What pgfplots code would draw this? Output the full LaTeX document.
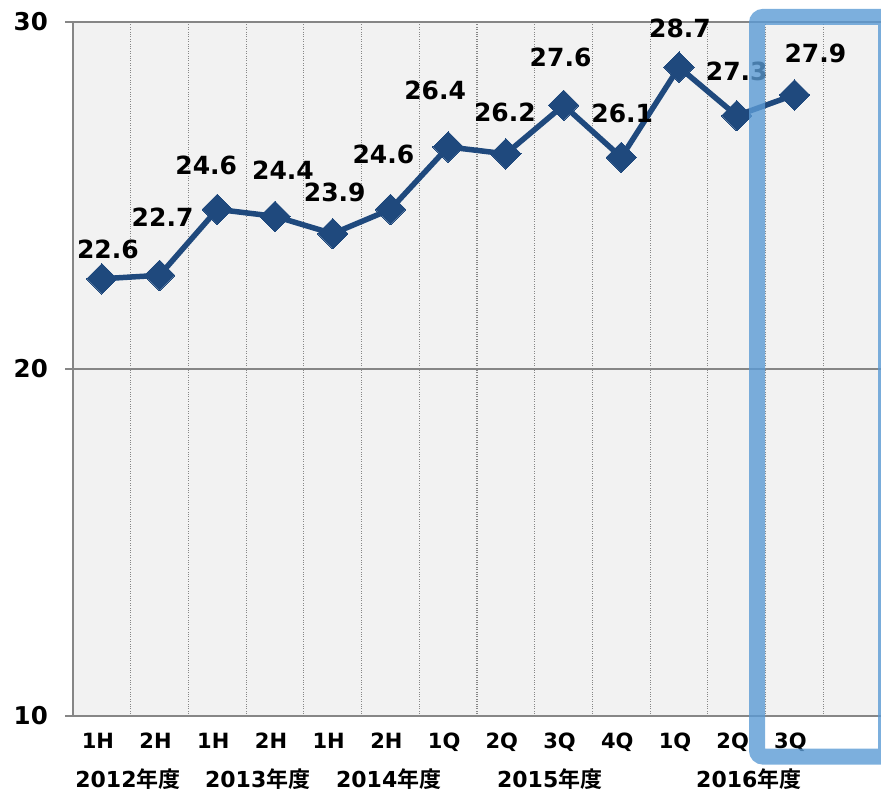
\documentclass[border=0pt]{standalone}
\usepackage{pgfplots}
\pgfplotsset{compat=1.18}
\usepackage{pgfplotstable}
\usepackage{fontspec}
\setmainfont{DejaVu Sans}
\newfontfamily\jp{Noto Sans CJK JP}[BoldFont={Noto Sans CJK JP Bold}]
\definecolor{lineblue}{RGB}{31,73,125}
\definecolor{bg}{RGB}{242,242,242}
\definecolor{gridgray}{RGB}{134,134,134}
\definecolor{hl}{RGB}{91,155,213}

\pgfplotstableread{
x y dx dy
0 22.6 6 29
1 22.7 3 58
2 24.6 -11 44
3 24.4 8 46
4 23.9 2 41
5 24.6 -7 55
6 26.4 -13 57
7 26.2 -1 41
8 27.6 -3 48
9 26.1 1 44
10 28.7 1 39
11 27.3 0 44
12 27.9 21 41
}\datatable

\begin{document}
\begin{tikzpicture}[x=1pt,y=1pt]
\begin{axis}[
  at={(73pt,77pt)}, anchor=south west,
  scale only axis, width=808pt, height=694pt,
  xmin=-0.5, xmax=13.5, ymin=10, ymax=30,
  axis lines=left, axis line style={-, gridgray, line width=1.3pt},
  axis background/.style={fill=bg},
  ytick={10,20,30}, ymajorgrids,
  major grid style={gridgray, line width=1.3pt},
  xtick={0,...,12},
  xticklabels={1H,2H,1H,2H,1H,2H,1Q,2Q,3Q,4Q,1Q,2Q,3Q},
  minor xtick={0.5,1.5,...,12.5}, xminorgrids,
  minor grid style={gridgray, dotted, line width=1.2pt},
  xtick style={draw=none},
  minor tick length=0pt,
  major tick length=8pt, tick align=outside,
  ytick style={gridgray, line width=1.3pt},
  /pgf/number format/assume math mode=true,
  yticklabel style={font=\bfseries\fontsize{24.5}{28}\selectfont, anchor=east, inner sep=0pt, xshift=-17pt},
  xticklabel style={font=\bfseries\fontsize{21}{25}\selectfont, anchor=base, inner sep=0pt, yshift=-24pt, xshift=-4pt},
  clip=false,
]
\addplot[lineblue, line width=5.5pt, mark=square*, mark size=10.8pt,
  mark options={rotate=45, fill=lineblue, draw=lineblue, line width=0pt},
  visualization depends on={\thisrow{dx} \as \dx},
  visualization depends on={\thisrow{dy} \as \dy},
  nodes near coords={\pgfmathprintnumber[fixed,fixed zerofill,precision=1]{\pgfplotspointmeta}},
  nodes near coords style={anchor=center, inner sep=0pt, xshift=\dx pt, yshift=\dy pt, black,
    font=\bfseries\fontsize{25}{30}\selectfont},
] table[x=x, y=y] {\datatable};
\node[anchor=base, inner sep=0pt, font=\bfseries\fontsize{22}{25}\selectfont] at (axis cs:0.452,10) [yshift=-71.5pt] {2012{\jp\bfseries 年度}};
\node[anchor=base, inner sep=0pt, font=\bfseries\fontsize{22}{25}\selectfont] at (axis cs:2.70,10) [yshift=-71.5pt] {2013{\jp\bfseries 年度}};
\node[anchor=base, inner sep=0pt, font=\bfseries\fontsize{22}{25}\selectfont] at (axis cs:4.97,10) [yshift=-71.5pt] {2014{\jp\bfseries 年度}};
\node[anchor=base, inner sep=0pt, font=\bfseries\fontsize{22}{25}\selectfont] at (axis cs:7.76,10) [yshift=-71.5pt] {2015{\jp\bfseries 年度}};
\node[anchor=base, inner sep=0pt, font=\bfseries\fontsize{22}{25}\selectfont] at (axis cs:11.21,10) [yshift=-71.5pt] {2016{\jp\bfseries 年度}};
\end{axis}
\draw[hl, opacity=0.8, line width=16pt, rounded corners=6pt] (757pt,36.5pt) rectangle (886pt,776pt);
\pgfresetboundingbox
\useasboundingbox (0pt,0pt) rectangle (881pt,793pt);
\end{tikzpicture}
\end{document}
